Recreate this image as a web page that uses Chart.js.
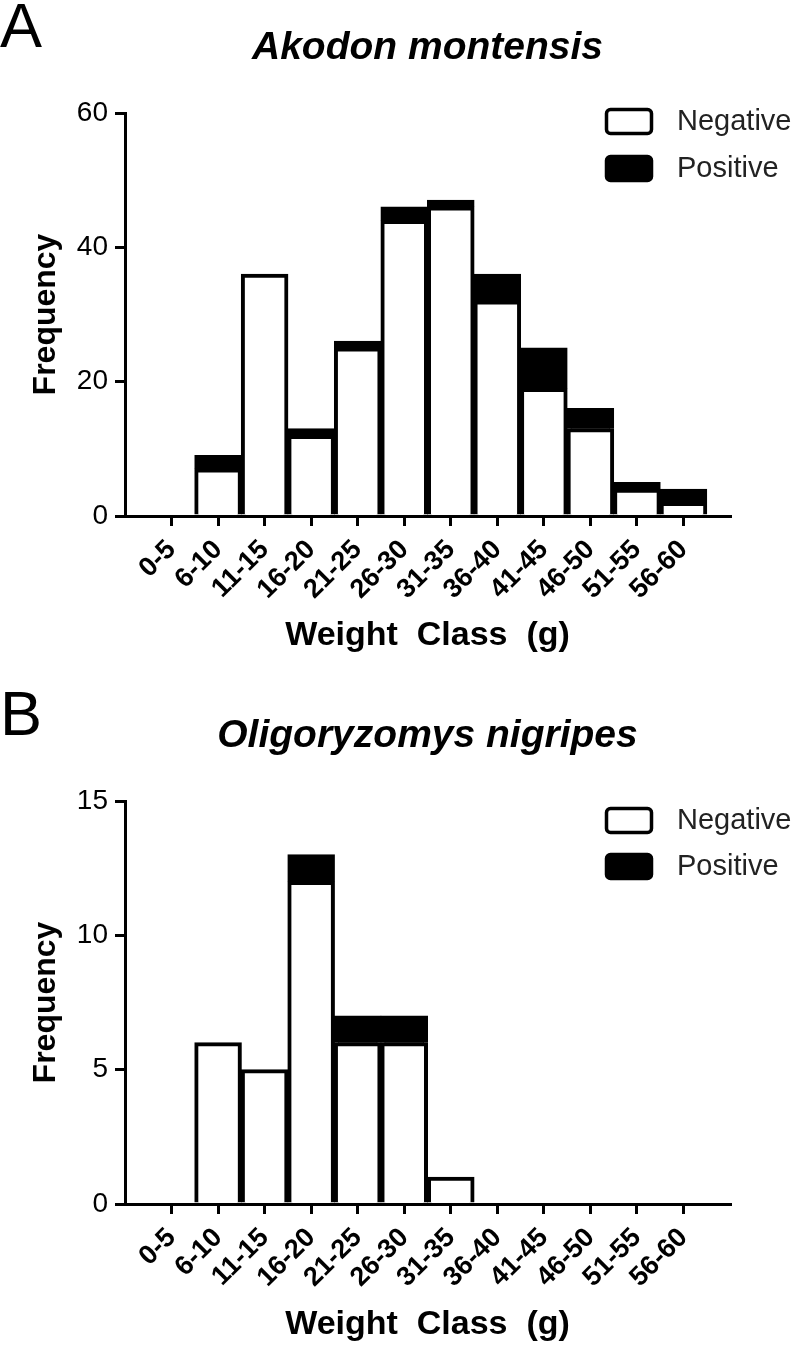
<!DOCTYPE html>
<html>
<head>
<meta charset="utf-8">
<script src="https://cdn.jsdelivr.net/npm/chart.js@4.4.1/dist/chart.umd.min.js"></script>
<style>
  html, body { margin: 0; padding: 0; background: #fff; }
  .wrap { position: absolute; left: 0; width: 800px; }
  #wrapA { top: 0; height: 670px; }
  #wrapB { top: 688px; height: 660px; }
  canvas { display: block; }
</style>
</head>
<body>
<div class="wrap" id="wrapA"><canvas id="chartA" width="800" height="670"></canvas></div>
<div class="wrap" id="wrapB"><canvas id="chartB" width="800" height="660"></canvas></div>
<script>
// ---- data ----
const weightClasses = ['0-5', '6-10', '11-15', '16-20', '21-25', '26-30', '31-35', '36-40', '41-45', '46-50', '51-55', '56-60'];
const seriesNames = ['Negative', 'Positive'];

const akodonNegative = [0, 7, 36, 12, 25, 44, 46, 32, 19, 13, 4, 2];
const akodonPositive = [0, 2, 0, 1, 1, 2, 1, 4, 6, 3, 1, 2];
const akodonYTicks = [0, 20, 40, 60];

const oligoNegative = [0, 6, 5, 12, 6, 6, 1, 0, 0, 0, 0, 0];
const oligoPositive = [0, 0, 0, 1, 1, 1, 0, 0, 0, 0, 0, 0];
const oligoYTicks = [0, 5, 10, 15];

const FONT = '"Liberation Sans", Arial, Helvetica, sans-serif';

const panelDecor = {
  id: 'panelDecor',
  afterDraw(chart, args, o) {
    const ctx = chart.ctx;
    ctx.save();
    ctx.fillStyle = '#000';
    ctx.font = '63px ' + FONT;
    ctx.textAlign = 'left';
    ctx.textBaseline = 'alphabetic';
    ctx.fillText(o.letter, 0, 47);
    const ys = [o.legendY1, o.legendY2];
    chart.data.datasets.forEach((d, i) => {
      const y = ys[i];
      ctx.beginPath();
      ctx.lineWidth = 3.5;
      ctx.strokeStyle = d.borderColor;
      ctx.fillStyle = d.backgroundColor;
      ctx.roundRect(606.5, y + 1.5, 45, 24, 4);
      ctx.fill();
      ctx.stroke();
      ctx.fillStyle = '#222';
      ctx.font = '29px ' + FONT;
      ctx.textBaseline = 'middle';
      ctx.fillText(d.label, 677, y + 14);
    });
    ctx.restore();
  }
};

function makeChart(id, title, neg, pos, yTicks, cfg) {
  const toPts = arr => arr.map((v, i) => ({ x: i, y: v }));
  return new Chart(document.getElementById(id), {
    type: 'bar',
    data: {
      datasets: [
        { label: seriesNames[0], data: toPts(neg), backgroundColor: '#ffffff', borderColor: '#000000', borderWidth: 4, inflateAmount: 0.5 },
        { label: seriesNames[1], data: toPts(pos), backgroundColor: '#000000', borderColor: '#000000', borderWidth: 4, inflateAmount: 0.5 }
      ]
    },
    plugins: [panelDecor],
    options: {
      responsive: false,
      animation: false,
      events: [],
      layout: { padding: { left: 0, right: 70, top: 0, bottom: 0 } },
      datasets: { bar: { barPercentage: 1, categoryPercentage: 1 } },
      plugins: {
        legend: { display: false },
        tooltip: { enabled: false },
        title: {
          display: true,
          text: title,
          fullSize: false,
          color: '#000',
          font: { family: FONT, size: 39, weight: 'bold', style: 'italic', lineHeight: 1.2 },
          padding: { top: 25, bottom: 41.2 }
        },
        panelDecor: { letter: cfg.letter, legendY1: cfg.legendY1, legendY2: cfg.legendY2 }
      },
      scales: {
        x: {
          type: 'linear',
          stacked: true,
          offset: false,
          min: -1,
          max: weightClasses.length,
          afterBuildTicks: s => { s.ticks = weightClasses.map((_, i) => ({ value: i })); },
          afterFit: s => { s.height = cfg.xAxisHeight; },
          grid: { display: true, offset: false, drawOnChartArea: false, drawTicks: true, tickLength: 10, color: '#000', lineWidth: 3 },
          border: { display: true, color: '#000', width: 3 },
          ticks: {
            autoSkip: false,
            minRotation: 45,
            maxRotation: 45,
            padding: 8,
            color: '#000',
            font: { family: FONT, size: 27, weight: 'bold' },
            callback: v => weightClasses[v]
          },
          title: {
            display: true,
            text: 'Weight  Class  (g)',
            color: '#000',
            font: { family: FONT, size: 34, weight: 'bold', lineHeight: 1.2 },
            padding: { top: 0, bottom: cfg.xTitlePadBottom }
          }
        },
        y: {
          stacked: true,
          min: yTicks[0],
          max: yTicks[yTicks.length - 1],
          afterBuildTicks: s => { s.ticks = yTicks.map(v => ({ value: v })); },
          afterFit: s => { s.width = 125; },
          grid: { display: true, drawOnChartArea: false, drawTicks: true, tickLength: 10, color: '#000', lineWidth: 3 },
          border: { display: true, color: '#000', width: 3 },
          ticks: {
            padding: 7,
            color: '#000',
            font: { family: FONT, size: 28 }
          },
          title: {
            display: true,
            text: 'Frequency',
            color: '#000',
            font: { family: FONT, size: 32, weight: 'bold', lineHeight: 1.2 },
            padding: { top: 27, bottom: 0 }
          }
        }
      }
    }
  });
}

makeChart('chartA', 'Akodon montensis', akodonNegative, akodonPositive, akodonYTicks,
  { letter: 'A', legendY1: 108, legendY2: 155, xAxisHeight: 154, xTitlePadBottom: 13.6 });
makeChart('chartB', 'Oligoryzomys nigripes', oligoNegative, oligoPositive, oligoYTicks,
  { letter: 'B', legendY1: 119, legendY2: 165, xAxisHeight: 144, xTitlePadBottom: 2.6 });
</script>
</body>
</html>
